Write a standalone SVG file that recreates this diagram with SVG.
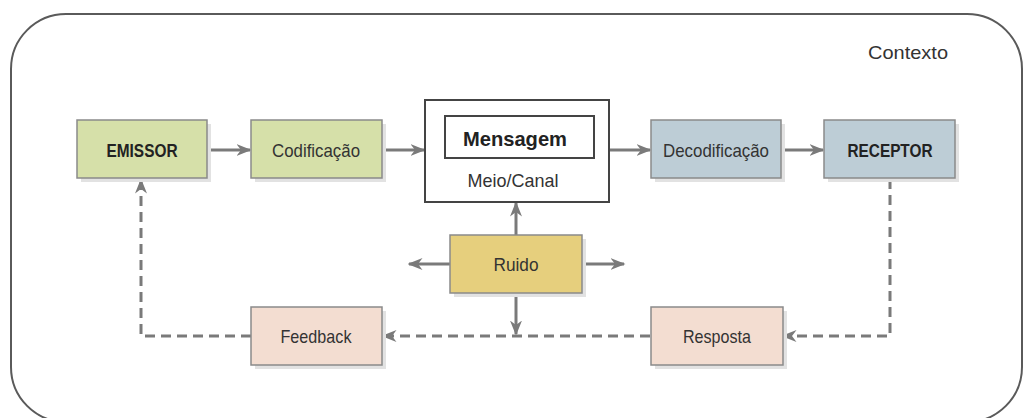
<svg xmlns="http://www.w3.org/2000/svg" width="1025" height="418" viewBox="0 0 1025 418">
<style>
.lbl{font-family:"Liberation Sans Narrow","Liberation Sans",Arial,sans-serif;font-size:19px;fill:#333;text-anchor:middle}
.b{font-weight:bold;fill:#222}
.box{stroke:#8a8a8a;stroke-width:1.5}
.sh{fill:#e2e2e2}
.g{fill:#d6e0a9}
.bl{fill:#bdcdd6}
.y{fill:#e6cf7d}
.p{fill:#f3ddd1}
.ar{stroke:#7a7a7a;stroke-width:3;fill:none}
.da{stroke:#7a7a7a;stroke-width:3;fill:none;stroke-dasharray:10 6}
</style>
<defs>
<marker id="ah" viewBox="0 0 10 10" refX="9" refY="5" markerWidth="5" markerHeight="5" orient="auto" markerUnits="strokeWidth">
<path d="M0,1 L10,5 L0,9 L3,5 z" fill="#7a7a7a"/>
</marker>
</defs>
<rect width="1025" height="418" fill="#fff"/>
<g id="contexto">
<rect x="11" y="14" width="1011" height="408" rx="55" ry="55" fill="none" stroke="#5a5a5a" stroke-width="2"/>
<text class="lbl" x="908" y="59" textLength="80" lengthAdjust="spacingAndGlyphs">Contexto</text>
</g>
<g id="connectors">
<line class="ar" x1="207" y1="150" x2="250" y2="150" marker-end="url(#ah)"/>
<line class="ar" x1="382" y1="150" x2="424" y2="150" marker-end="url(#ah)"/>
<line class="ar" x1="609" y1="150" x2="650" y2="150" marker-end="url(#ah)"/>
<line class="ar" x1="781" y1="150" x2="823" y2="150" marker-end="url(#ah)"/>
<line class="ar" x1="516" y1="235" x2="516" y2="203" marker-end="url(#ah)"/>
<line class="ar" x1="450" y1="264" x2="409" y2="264" marker-end="url(#ah)"/>
<line class="ar" x1="582" y1="264" x2="624" y2="264" marker-end="url(#ah)"/>
<line class="ar" x1="516" y1="293" x2="516" y2="334" marker-end="url(#ah)"/>
<polyline class="da" points="890,179 890,336 783,336" marker-end="url(#ah)"/>
<line class="da" x1="650" y1="336" x2="383" y2="336" marker-end="url(#ah)"/>
<polyline class="da" points="251,336 141,336 141,180" marker-end="url(#ah)"/>
</g>
<g id="emissor">
<rect class="sh" x="81" y="124" width="130" height="58"/>
<rect class="box g" x="77" y="120" width="130" height="58"/>
<text class="lbl b" x="142" y="157" textLength="71" lengthAdjust="spacingAndGlyphs">EMISSOR</text>
</g>
<g id="codificacao">
<rect class="sh" x="255" y="124" width="131" height="58"/>
<rect class="box g" x="251" y="120" width="131" height="58"/>
<text class="lbl" x="316" y="157" textLength="88" lengthAdjust="spacingAndGlyphs">Codificação</text>
</g>
<g id="meio-canal">
<rect x="425" y="100" width="184" height="102" fill="#fff" stroke="#444" stroke-width="2"/>
<rect x="445" y="116" width="149" height="42" fill="#fff" stroke="#444" stroke-width="2"/>
<text class="lbl b" x="515" y="146" style="font-size:21px" textLength="104" lengthAdjust="spacingAndGlyphs">Mensagem</text>
<text class="lbl" x="513" y="187" textLength="91" lengthAdjust="spacingAndGlyphs">Meio/Canal</text>
</g>
<g id="decodificacao">
<rect class="sh" x="655" y="124" width="130" height="58"/>
<rect class="box bl" x="651" y="120" width="130" height="58"/>
<text class="lbl" x="716" y="157" textLength="106" lengthAdjust="spacingAndGlyphs">Decodificação</text>
</g>
<g id="receptor">
<rect class="sh" x="828" y="124" width="131" height="58"/>
<rect class="box bl" x="824" y="120" width="131" height="58"/>
<text class="lbl b" x="890" y="157" textLength="85" lengthAdjust="spacingAndGlyphs">RECEPTOR</text>
</g>
<g id="ruido">
<rect class="sh" x="454" y="239" width="132" height="58"/>
<rect class="box y" x="450" y="235" width="132" height="58"/>
<text class="lbl" x="516" y="271" textLength="45" lengthAdjust="spacingAndGlyphs">Ruido</text>
</g>
<g id="feedback">
<rect class="sh" x="255" y="311" width="131" height="58"/>
<rect class="box p" x="251" y="307" width="131" height="58"/>
<text class="lbl" x="316" y="343" textLength="71" lengthAdjust="spacingAndGlyphs">Feedback</text>
</g>
<g id="resposta">
<rect class="sh" x="655" y="311" width="132" height="58"/>
<rect class="box p" x="651" y="307" width="132" height="58"/>
<text class="lbl" x="717" y="343" textLength="68" lengthAdjust="spacingAndGlyphs">Resposta</text>
</g>
</svg>
